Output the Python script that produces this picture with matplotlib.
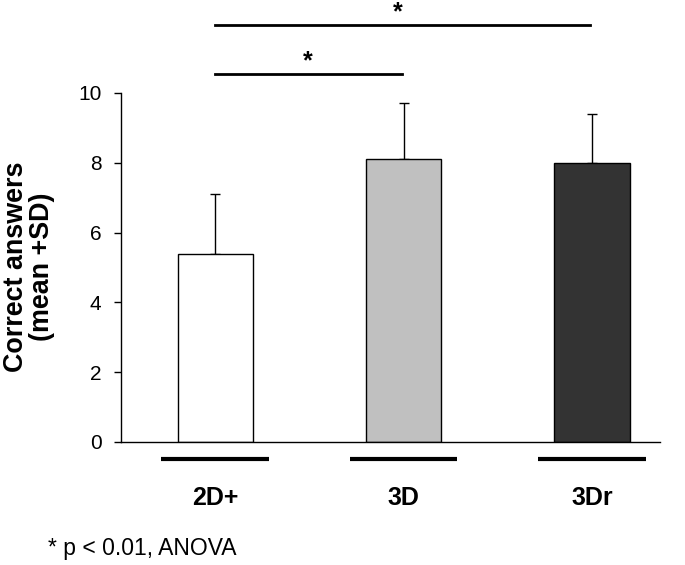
import matplotlib
matplotlib.use("Agg")
import matplotlib.pyplot as plt

categories = ["2D+", "3D", "3Dr"]
means = [5.4, 8.1, 8.0]
sds = [1.7, 1.6, 1.4]
colors = ["#ffffff", "#c0c0c0", "#333333"]
yticks = [0, 2, 4, 6, 8, 10]

plt.rcParams['font.family'] = ['Liberation Sans', 'DejaVu Sans']

fig = plt.figure(figsize=(6.85, 5.65), dpi=100)
ax = fig.add_axes([0.1766, 0.2177, 0.9635 - 0.1766, 0.8354 - 0.2177])

x = list(range(len(categories)))
ax.bar(x, means, width=0.4, color=colors, edgecolor="black", linewidth=1, zorder=2)
ax.errorbar(x, means, yerr=[[0] * len(sds), sds], fmt="none", ecolor="black",
            elinewidth=1, capsize=3.5, capthick=1, zorder=1)

ax.set_xlim(-0.5, 2.36)
ax.set_ylim(0, 10)
ax.set_yticks(yticks)
ax.set_yticklabels([str(t) for t in yticks], fontsize=15)
ax.set_xticks([])
for s in ["top", "right"]:
    ax.spines[s].set_visible(False)
ax.spines["left"].set_linewidth(1)
ax.spines["bottom"].set_linewidth(1)
ax.tick_params(axis="y", direction="out", length=5, width=1, pad=9)

fig.text(29 / 685, 1 - 267 / 565, "Correct answers\n(mean +SD)", rotation=90,
         ha="center", va="center", fontsize=19.4, fontweight="bold", linespacing=1.0,
         multialignment="center")

# category underline segments and labels
for xi, lab in zip(x, categories):
    ax.plot([xi - 0.285, xi + 0.285], [-0.5, -0.5], color="black", lw=3,
            clip_on=False, solid_capstyle="butt")
    ax.text(xi, -1.6, lab, ha="center", va="center", fontsize=18, fontweight="bold")

# significance bars
ax.plot([0, 0.99], [10.54, 10.54], color="black", lw=2, clip_on=False)
ax.text(0.49, 10.9, "*", ha="center", va="center", fontsize=18, fontweight="bold")
ax.plot([0, 1.99], [11.95, 11.95], color="black", lw=2, clip_on=False)
ax.text(0.97, 12.3, "*", ha="center", va="center", fontsize=18, fontweight="bold")

fig.text(48 / 685, 1 - 548 / 565, "* p < 0.01, ANOVA", fontsize=16.5, ha="left", va="center")

fig.savefig("out.png", dpi=100)
